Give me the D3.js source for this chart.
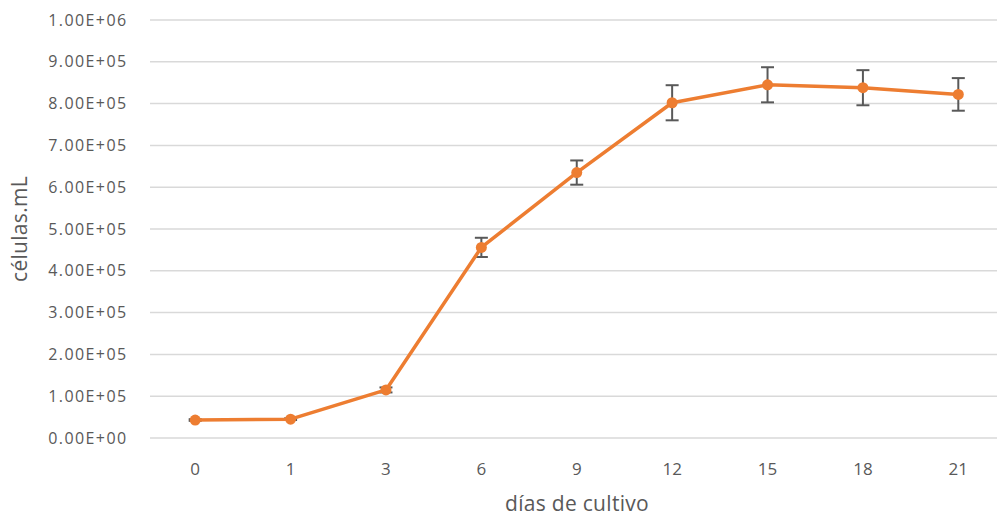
<!DOCTYPE html>
<html>
<head>
<meta charset="utf-8">
<script src="https://cdn.jsdelivr.net/npm/d3@7"></script>
<style>
    body { margin: 0; background: #fff; }
    text { font-family: "Open Sans", sans-serif; fill: #595959; }
</style>
</head>
<body>
<script>
(function(){
    // chart data
    var days = ["0", "1", "3", "6", "9", "12", "15", "18", "21"];
    var cells = [43000, 45000, 115000, 456000, 635000, 802000, 845000, 838000, 822000];
    var errors = [2000, 2000, 6000, 23000, 29000, 42000, 42000, 42000, 39000];
    var yTicks = [0, 100000, 200000, 300000, 400000, 500000, 600000, 700000, 800000, 900000, 1000000];

    var width = 997,
        height = 519;

    var svg = d3.select("body")
        .append("svg")
        .attr("width", width)
        .attr("height", height);

    var x = d3.scaleBand()
        .domain(days)
        .range([147.5, 1006]);

    var y = d3.scaleLinear()
        .domain([0, 1000000])
        .range([438, 20]);

    // gridlines
    svg.selectAll(".grid")
        .data(yTicks)
        .enter()
        .append("line")
        .attr("class", "grid")
        .attr("x1", 150)
        .attr("x2", 1006)
        .attr("y1", function(d){ return y(d); })
        .attr("y2", function(d){ return y(d); })
        .attr("stroke", "#d9d9d9")
        .attr("stroke-width", 1.5);

    // y axis labels like 1.00E+05
    var fmt = function(d){
        var exp = d === 0 ? 0 : Math.floor(Math.log10(d));
        var mant = d / Math.pow(10, exp);
        return mant.toFixed(2) + "E+" + (exp < 10 ? "0" : "") + exp;
    };

    svg.selectAll(".ylab")
        .data(yTicks)
        .enter()
        .append("text")
        .attr("class", "ylab")
        .attr("x", 127.5)
        .attr("y", function(d){ return y(d); })
        .attr("dy", "0.35em")
        .attr("text-anchor", "end")
        .style("font-size", "16px")
        .style("letter-spacing", "1.4px")
        .text(fmt);

    // x axis labels
    svg.selectAll(".xlab")
        .data(days)
        .enter()
        .append("text")
        .attr("class", "xlab")
        .attr("x", function(d){ return x(d) + x.bandwidth() / 2; })
        .attr("y", 469)
        .attr("dy", "0.35em")
        .attr("text-anchor", "middle")
        .style("font-size", "17px")
        .text(function(d){ return d; });

    // axis titles
    svg.append("text")
        .attr("x", 577)
        .attr("y", 504)
        .attr("dy", "0.35em")
        .attr("text-anchor", "middle")
        .style("font-size", "21px")
        .style("letter-spacing", "0.3px")
        .text("días de cultivo");

    svg.append("text")
        .attr("transform", "translate(20,229) rotate(-90)")
        .attr("dy", "0.35em")
        .attr("text-anchor", "middle")
        .style("font-size", "21px")
        .style("letter-spacing", "0.3px")
        .text("células.mL");

    var cx = function(d, i){ return x(days[i]) + x.bandwidth() / 2; };

    // error bars (behind the line)
    var eb = svg.selectAll(".err")
        .data(cells)
        .enter()
        .append("g")
        .attr("class", "err")
        .attr("stroke", "#595959")
        .attr("stroke-width", 2);

    eb.append("line")
        .attr("x1", cx).attr("x2", cx)
        .attr("y1", function(d, i){ return y(d + errors[i]); })
        .attr("y2", function(d, i){ return y(d - errors[i]); });

    eb.append("line")
        .attr("x1", function(d, i){ return cx(d, i) - 6.5; })
        .attr("x2", function(d, i){ return cx(d, i) + 6.5; })
        .attr("y1", function(d, i){ return y(d + errors[i]); })
        .attr("y2", function(d, i){ return y(d + errors[i]); });

    eb.append("line")
        .attr("x1", function(d, i){ return cx(d, i) - 6.5; })
        .attr("x2", function(d, i){ return cx(d, i) + 6.5; })
        .attr("y1", function(d, i){ return y(d - errors[i]); })
        .attr("y2", function(d, i){ return y(d - errors[i]); });

    // line
    var line = d3.line()
        .x(function(d, i){ return cx(d, i); })
        .y(function(d){ return y(d); });

    svg.append("path")
        .datum(cells)
        .attr("d", line)
        .attr("fill", "none")
        .attr("stroke", "#ed7d31")
        .attr("stroke-width", 3.5)
        .attr("stroke-linejoin", "round");

    // markers
    svg.selectAll(".dot")
        .data(cells)
        .enter()
        .append("circle")
        .attr("class", "dot")
        .attr("cx", cx)
        .attr("cy", function(d){ return y(d); })
        .attr("r", 5.5)
        .attr("fill", "#ed7d31");
})();
</script>
</body>
</html>
